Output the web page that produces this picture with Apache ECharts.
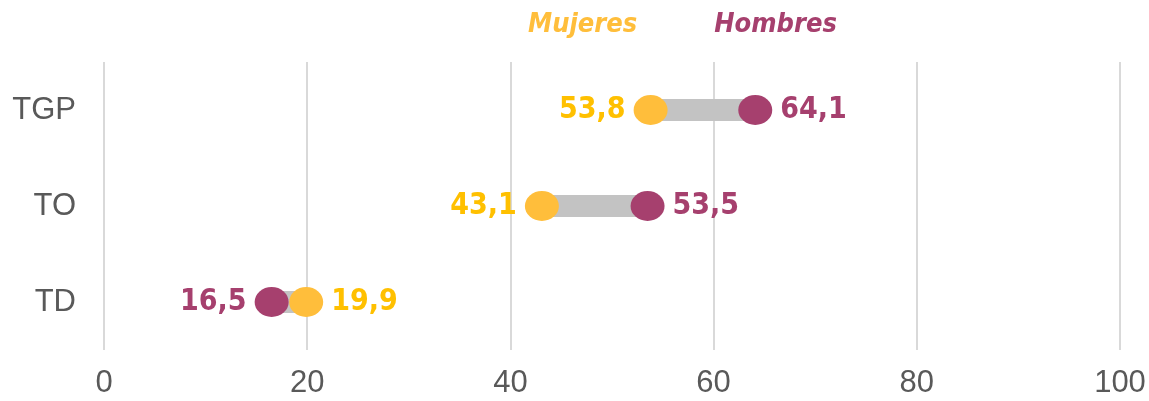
<!DOCTYPE html>
<html>
<head>
<meta charset="utf-8">
<script src="https://cdn.jsdelivr.net/npm/echarts@6/dist/echarts.min.js"></script>
<style>
  html, body { margin: 0; padding: 0; background: #fff; }
  #chart { width: 1149px; height: 401px; }
</style>
</head>
<body>
<div id="chart"></div>
<script>
  let categories = ['TGP', 'TO', 'TD']
  let mujeres = [53.8, 43.1, 19.9]
  let hombres = [64.1, 53.5, 16.5]

  let colorM = '#FFBE3B'
  let colorH = '#A6406E'
  let labelM = '#FFC000'
  let labelFont = '"DejaVu Sans Condensed", sans-serif'
  let axisFont = '"Liberation Sans", Arial, sans-serif'

  // barra gris entre los dos puntos
  let base = []
  let span = []
  for (let i = 0; i < categories.length; i++) {
    base.push(Math.min(mujeres[i], hombres[i]))
    span.push(Math.abs(mujeres[i] - hombres[i]))
  }

  function dots(values, other) {
    return values.map(function (v, i) {
      return {
        value: [v, categories[i]],
        label: { position: v < other[i] ? 'left' : 'right' }
      }
    })
  }

  let myChart = echarts.init(document.getElementById('chart'))
  myChart.setOption({
    animation: false,
    legend: {
      top: 6,
      left: 518,
      itemGap: 72,
      icon: 'none',
      itemWidth: 0,
      selectedMode: false,
      data: [
        { name: 'Mujeres', textStyle: { color: colorM } },
        { name: 'Hombres', textStyle: { color: colorH } }
      ],
      textStyle: { fontSize: 27, fontStyle: 'italic', fontWeight: 'bold', fontFamily: labelFont }
    },
    grid: { left: 104, right: 29, top: 62, bottom: 51, outerBoundsMode: 'none' },
    xAxis: [
      {
        type: 'value', min: 0, max: 100, interval: 20,
        axisLine: { show: false },
        axisTick: { show: false },
        splitLine: { lineStyle: { color: '#d9d9d9', width: 2 } },
        axisLabel: { fontSize: 31, color: '#595959', margin: 18, fontFamily: axisFont }
      },
      {
        type: 'value', min: 0, max: 100, interval: 20, position: 'top',
        axisLine: { show: false },
        axisTick: { show: false },
        splitLine: { show: false },
        axisLabel: { fontSize: 31, color: '#595959', margin: 57, fontFamily: axisFont }
      }
    ],
    yAxis: {
      type: 'category',
      data: categories,
      inverse: true,
      axisLine: { show: false },
      axisTick: { show: false },
      axisLabel: { fontSize: 31, color: '#595959', margin: 28, fontFamily: axisFont }
    },
    series: [
      {
        type: 'bar', stack: 'gap', barWidth: 22, silent: true,
        itemStyle: { color: 'transparent' },
        data: base
      },
      {
        type: 'bar', stack: 'gap', barWidth: 22, silent: true,
        itemStyle: { color: '#c3c3c3' },
        data: span
      },
      {
        name: 'Mujeres', type: 'scatter', symbol: 'circle', symbolSize: [34, 30],
        itemStyle: { color: colorM, opacity: 1 },
        label: {
          show: true, distance: 8, color: labelM, fontSize: 30, fontWeight: 'bold', fontFamily: labelFont,
          formatter: function (p) { return String(p.value[0]).replace('.', ',') }
        },
        data: dots(mujeres, hombres),
        z: 5
      },
      {
        name: 'Hombres', type: 'scatter', symbol: 'circle', symbolSize: [34, 30],
        itemStyle: { color: colorH, opacity: 1 },
        label: {
          show: true, distance: 8, color: colorH, fontSize: 30, fontWeight: 'bold', fontFamily: labelFont,
          formatter: function (p) { return String(p.value[0]).replace('.', ',') }
        },
        data: dots(hombres, mujeres),
        z: 5
      }
    ]
  })
</script>
</body>
</html>
